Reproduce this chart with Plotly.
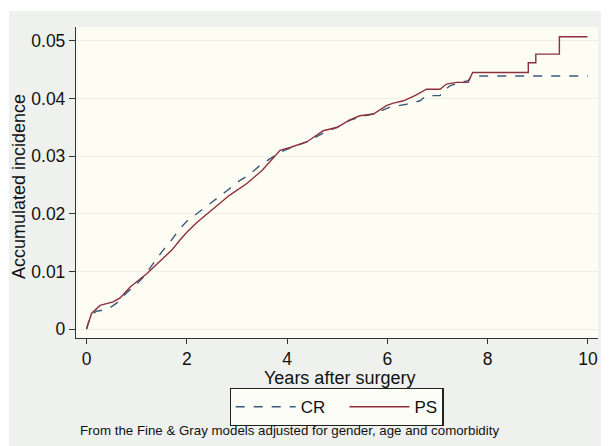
import plotly.graph_objects as go

# Data (years after surgery, accumulated incidence)
cr_years = [0, 0.05, 0.10, 0.20, 0.33, 0.45, 0.60, 0.80, 1.00, 1.13, 1.30, 1.50, 1.70, 1.86, 2.00, 2.20, 2.53,
            2.80, 3.06, 3.25, 3.46, 3.65, 3.86, 4.06, 4.40, 4.72, 5.00, 5.25, 5.45, 5.72, 6.05, 6.38, 6.65,
            6.78, 7.05, 7.11, 7.25, 7.45, 7.61, 7.68, 10.0]
cr_values = [0, 0.0015, 0.0025, 0.0031, 0.0033, 0.0036, 0.0045, 0.0063, 0.0078, 0.0090, 0.0110, 0.0134, 0.0155,
             0.0174, 0.0187, 0.0200, 0.0223, 0.0240, 0.0258, 0.0268, 0.0284, 0.0295, 0.0307, 0.0314, 0.0325,
             0.0340, 0.0350, 0.0362, 0.0368, 0.0373, 0.0385, 0.0390, 0.0396, 0.0405, 0.0405, 0.0413, 0.0422,
             0.0428, 0.0431, 0.0439, 0.0439]

ps_years = [0, 0.05, 0.10, 0.27, 0.53, 0.67, 0.87, 1.20, 1.53, 1.70, 1.86, 2.00, 2.20, 2.53, 2.85, 3.19, 3.50,
            3.86, 4.06, 4.40, 4.72, 5.00, 5.25, 5.45, 5.72, 5.99, 6.12, 6.32, 6.55, 6.78, 7.05, 7.18, 7.38,
            7.61, 7.70, 8.81, 8.81, 8.96, 8.96, 9.43, 9.43, 9.99]
ps_values = [0, 0.0012, 0.0027, 0.0041, 0.0047, 0.0054, 0.0073, 0.0096, 0.0122, 0.0137, 0.0154, 0.0168,
             0.0185, 0.0209, 0.0232, 0.0252, 0.0275, 0.0310, 0.0315, 0.0325, 0.0344, 0.0350, 0.0363, 0.0370,
             0.0373, 0.0388, 0.0392, 0.0396, 0.0405, 0.0416, 0.0416, 0.0425, 0.0428, 0.0428, 0.0445, 0.0445,
             0.0462, 0.0462, 0.0477, 0.0477, 0.0507, 0.0507]

x_ticks = [0, 2, 4, 6, 8, 10]
y_ticks = [0, 0.01, 0.02, 0.03, 0.04, 0.05]
y_tick_labels = ["0", "0.01", "0.02", "0.03", "0.04", "0.05"]

FONT = "Liberation Sans, Arial, sans-serif"
NB = "\u00a0"

fig = go.Figure()
fig.add_trace(go.Scatter(x=cr_years, y=cr_values, mode="lines", name="CR" + NB * 3,
                         line=dict(color="#3c5a7d", width=1.4, dash="dash")))
fig.add_trace(go.Scatter(x=ps_years, y=ps_values, mode="lines", name="PS",
                         line=dict(color="#8e2f3d", width=1.4)))

# The page body adds an 8 px offset; figure is sized so the screenshot lines up.
OFF = 8
W, H = 609 - OFF, 446 - OFF
L, R, T, B = 68, 11, 19, 108
pw, ph = W - L - R, H - T - B

def px_x(p):
    return (p - OFF - L) / pw

def px_y(p):
    return (H - B - (p - OFF)) / ph

fig.update_layout(
    width=W, height=H,
    margin=dict(l=L, r=R, t=T, b=B, autoexpand=False),
    paper_bgcolor="#eff1ee",
    plot_bgcolor="#fdfdf3",
    font=dict(family=FONT, color="#111111"),
    showlegend=True,
    legend=dict(
        orientation="h", x=px_x(229.5), xanchor="left", y=px_y(388), yanchor="top",
        bgcolor="#fdfdf7", bordercolor="#222222", borderwidth=1.2,
        font=dict(size=17, family=FONT, color="#111111"),
        entrywidth=0, itemwidth=60,
        tracegroupgap=0,
    ),
    xaxis=dict(
        range=[-0.21, 10.2], tickvals=x_ticks, ticks="outside", ticklen=5, tickwidth=1.2,
        tickcolor="#333333", showline=True, linecolor="#333333", linewidth=1.3,
        showgrid=False, zeroline=False, tickfont=dict(size=17.5),
    ),
    yaxis=dict(
        range=[-0.00155, 0.0524], tickvals=y_ticks, ticktext=y_tick_labels, ticks="outside",
        ticklen=6, tickwidth=1.2, tickcolor="#333333", showline=True, linecolor="#333333",
        linewidth=1.3, showgrid=True, gridcolor="#efeee4", gridwidth=1, zeroline=False,
        tickfont=dict(size=17.5),
    ),
    shapes=[
        dict(type="rect", xref="paper", yref="paper", x0=px_x(0), x1=px_x(609), y0=px_y(11), y1=px_y(0),
             fillcolor="white", line=dict(width=0), layer="above"),
        dict(type="rect", xref="paper", yref="paper", x0=px_x(0), x1=px_x(9), y0=px_y(446), y1=px_y(0),
             fillcolor="white", line=dict(width=0), layer="above"),
    ],
    annotations=[
        dict(text="Years after surgery", xref="paper", yref="paper", x=px_x(339), y=px_y(378),
             xanchor="center", yanchor="middle", showarrow=False,
             font=dict(size=18, family=FONT, color="#111111")),
        dict(text="Accumulated incidence", xref="paper", yref="paper", x=px_x(19), y=px_y(187),
             xanchor="center", yanchor="middle", showarrow=False, textangle=-90,
             font=dict(size=18, family=FONT, color="#111111")),
        dict(text="From the Fine & Gray models adjusted for gender, age and comorbidity",
             xref="paper", yref="paper", x=px_x(78), y=px_y(431), xanchor="left", yanchor="middle",
             showarrow=False, font=dict(size=13.3, family=FONT, color="#111111")),
    ],
)

fig.write_html("out.html")
